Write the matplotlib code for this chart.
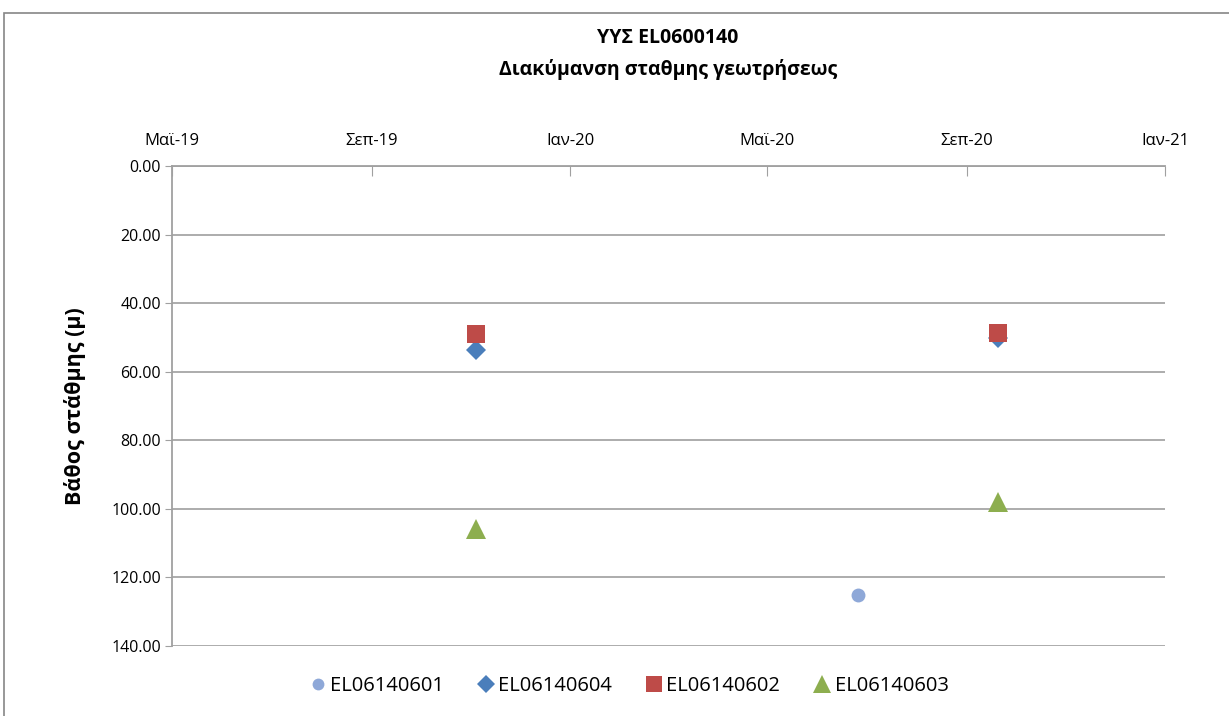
import matplotlib
matplotlib.use("Agg")
import matplotlib.pyplot as plt
import matplotlib.dates as mdates
from matplotlib.patches import Rectangle
from datetime import datetime

plt.rcParams['font.family'] = ['Open Sans', 'DejaVu Sans']

# ---- data ----
title = "ΥΥΣ EL0600140\nΔιακύμανση σταθμης γεωτρήσεως"
ylabel = "Βάθος στάθμης (μ)"
tick_dates = [datetime(2019, 5, 1), datetime(2019, 9, 1), datetime(2020, 1, 1),
              datetime(2020, 5, 1), datetime(2020, 9, 1), datetime(2021, 1, 1)]
tick_labels = ["Μαϊ-19", "Σεπ-19", "Ιαν-20", "Μαϊ-20", "Σεπ-20", "Ιαν-21"]
y_ticks = [0, 20, 40, 60, 80, 100, 120, 140]

names = ["EL06140601", "EL06140604", "EL06140602", "EL06140603"]
dates_601 = [datetime(2020, 6, 26)]
vals_601 = [125.0]
dates_604 = [datetime(2019, 11, 4), datetime(2020, 9, 20)]
vals_604 = [53.7, 50.2]
dates_602 = [datetime(2019, 11, 4), datetime(2020, 9, 20)]
vals_602 = [49.0, 48.7]
dates_603 = [datetime(2019, 11, 4), datetime(2020, 9, 20)]
vals_603 = [105.9, 98.1]

series = [
    (dates_601, vals_601, 'o', "#8EA8D8", 10),
    (dates_604, vals_604, 'D', "#4A7EBB", 10.5),
    (dates_602, vals_602, 's', "#BE4B48", 13.5),
    (dates_603, vals_603, '^', "#8DAE4F", 15),
]

fig = plt.figure(figsize=(12.29, 7.16), dpi=100)
ax = fig.add_axes([172/1229, 1-646/716, (1165-172)/1229, (646-166)/716])

handles = []
for (d, v, m, c, ms), name in zip(series, names):
    h, = ax.plot(d, v, linestyle='none', marker=m, color=c, markersize=ms,
                 markeredgewidth=0, label=name, zorder=3)
    handles.append(h)

ax.set_xlim(tick_dates[0], tick_dates[-1])
ax.set_ylim(140, 0)
ax.set_yticks(y_ticks)
ax.set_yticklabels([f"{v:.2f}" for v in y_ticks], fontsize=11.5)
ax.set_xticks(tick_dates)
ax.set_xticklabels(tick_labels, fontsize=12)
ax.xaxis.tick_top()
ax.tick_params(axis='x', direction='in', length=7, color='#A0A0A0', pad=12)
ax.tick_params(axis='y', direction='out', length=5, color='#A0A0A0', pad=3)

ax.grid(axis='y', color='#A6A6A6', linewidth=1.3)
ax.set_axisbelow(True)
for s in ['right', 'bottom']:
    ax.spines[s].set_visible(False)
for s in ['left', 'top']:
    ax.spines[s].set_color('#A0A0A0')
    ax.spines[s].set_linewidth(1.3)

ax.set_ylabel(ylabel, fontsize=15.5, fontweight='bold', labelpad=18)

fig.text(668/1229, 1-54/716, title, ha='center', va='center', fontsize=14,
         fontweight='bold', linespacing=1.7)

leg = fig.legend(handles=handles, loc='center', bbox_to_anchor=(627/1229, 1-686/716),
                 ncol=4, frameon=False, fontsize=14.5, handletextpad=0.0,
                 columnspacing=1.5, markerscale=0.85, handlelength=1.2)

fig.patches.append(Rectangle((4/1229, -0.1), 1.2, 1.1 - 13/716, transform=fig.transFigure,
                             fill=False, edgecolor='#868686', linewidth=1.2))

fig.savefig("out.png", dpi=100)
